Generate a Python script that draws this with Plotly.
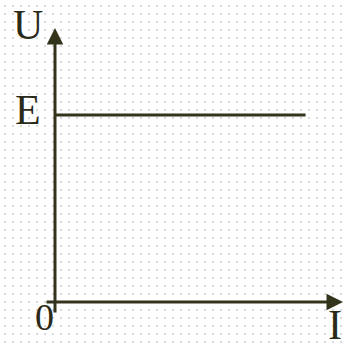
import numpy as np
import plotly.graph_objects as go

# ---- data ----
E = 1.0
I_values = [0.0, 1.34]          # current range of the horizontal line
U_values = [E, E]               # terminal voltage equals EMF
axis_labels = {"U": "U", "I": "I", "E": "E", "O": "0"}

# ---- scale helpers (pixel layout of 344x347 canvas) ----
W, H = 344, 347
ox, oy = 55, 302       # origin pixel
s = 187.0              # pixels per unit
xr = [(0 - ox) / s, (W - ox) / s]
yr = [(oy - H) / s, (oy - 0) / s]

ink = "#34341c"
text_ink = "#2a2a18"

fig = go.Figure()

# dotted background grid (decoration)
gx_px = np.arange(5, W, 8)
gy_px = np.arange(6, H, 8)
GX, GY = np.meshgrid((gx_px - ox) / s, (oy - gy_px) / s)
fig.add_trace(go.Scatter(
    x=GX.ravel(), y=GY.ravel(), mode="markers",
    marker=dict(symbol="square", size=2, color="#dadada", line=dict(width=0)),
    hoverinfo="skip", showlegend=False))

# U = E line
fig.add_trace(go.Scatter(
    x=I_values, y=U_values, mode="lines",
    line=dict(color=ink, width=3), hoverinfo="skip", showlegend=False))

# axes with arrows
fig.add_annotation(x=(343 - ox) / s, y=0, ax=(45 - ox) / s, ay=0,
                   xref="x", yref="y", axref="x", ayref="y",
                   showarrow=True, arrowhead=2, arrowsize=1.1, arrowwidth=3,
                   arrowcolor=ink, standoff=0, text="")
fig.add_annotation(x=0, y=(oy - 28) / s, ax=0, ay=(oy - 314) / s,
                   xref="x", yref="y", axref="x", ayref="y",
                   showarrow=True, arrowhead=2, arrowsize=1.1, arrowwidth=3,
                   arrowcolor=ink, standoff=0, text="")

fam = "Liberation Serif, Times New Roman, serif"
big = dict(family=fam, size=42, color=text_ink)
small = dict(family=fam, size=38, color=text_ink)
# U label: anchored to top of canvas
fig.add_annotation(x=(28 - ox) / s, y=1, xref="x", yref="paper", text=axis_labels["U"],
                   showarrow=False, font=big, xanchor="center", yanchor="top")
labels = [
    (axis_labels["E"], (28 - ox) / s, (oy - 110) / s, big),
    (axis_labels["O"], (44 - ox) / s, (oy - 317) / s, small),
    (axis_labels["I"], (335 - ox) / s, (oy - 325) / s, big),
]
for t, x, y, f in labels:
    fig.add_annotation(x=x, y=y, xref="x", yref="y", text=t, showarrow=False,
                       font=f, xanchor="center", yanchor="middle")

fig.update_layout(
    width=W, height=H, margin=dict(l=0, r=0, t=0, b=0),
    paper_bgcolor="white", plot_bgcolor="white",
    xaxis=dict(range=xr, visible=False, fixedrange=True),
    yaxis=dict(range=yr, visible=False, fixedrange=True),
)

fig.write_html("out.html", config={"displayModeBar": False},
               post_script="document.body.style.margin='0';document.body.style.overflow='hidden';")
